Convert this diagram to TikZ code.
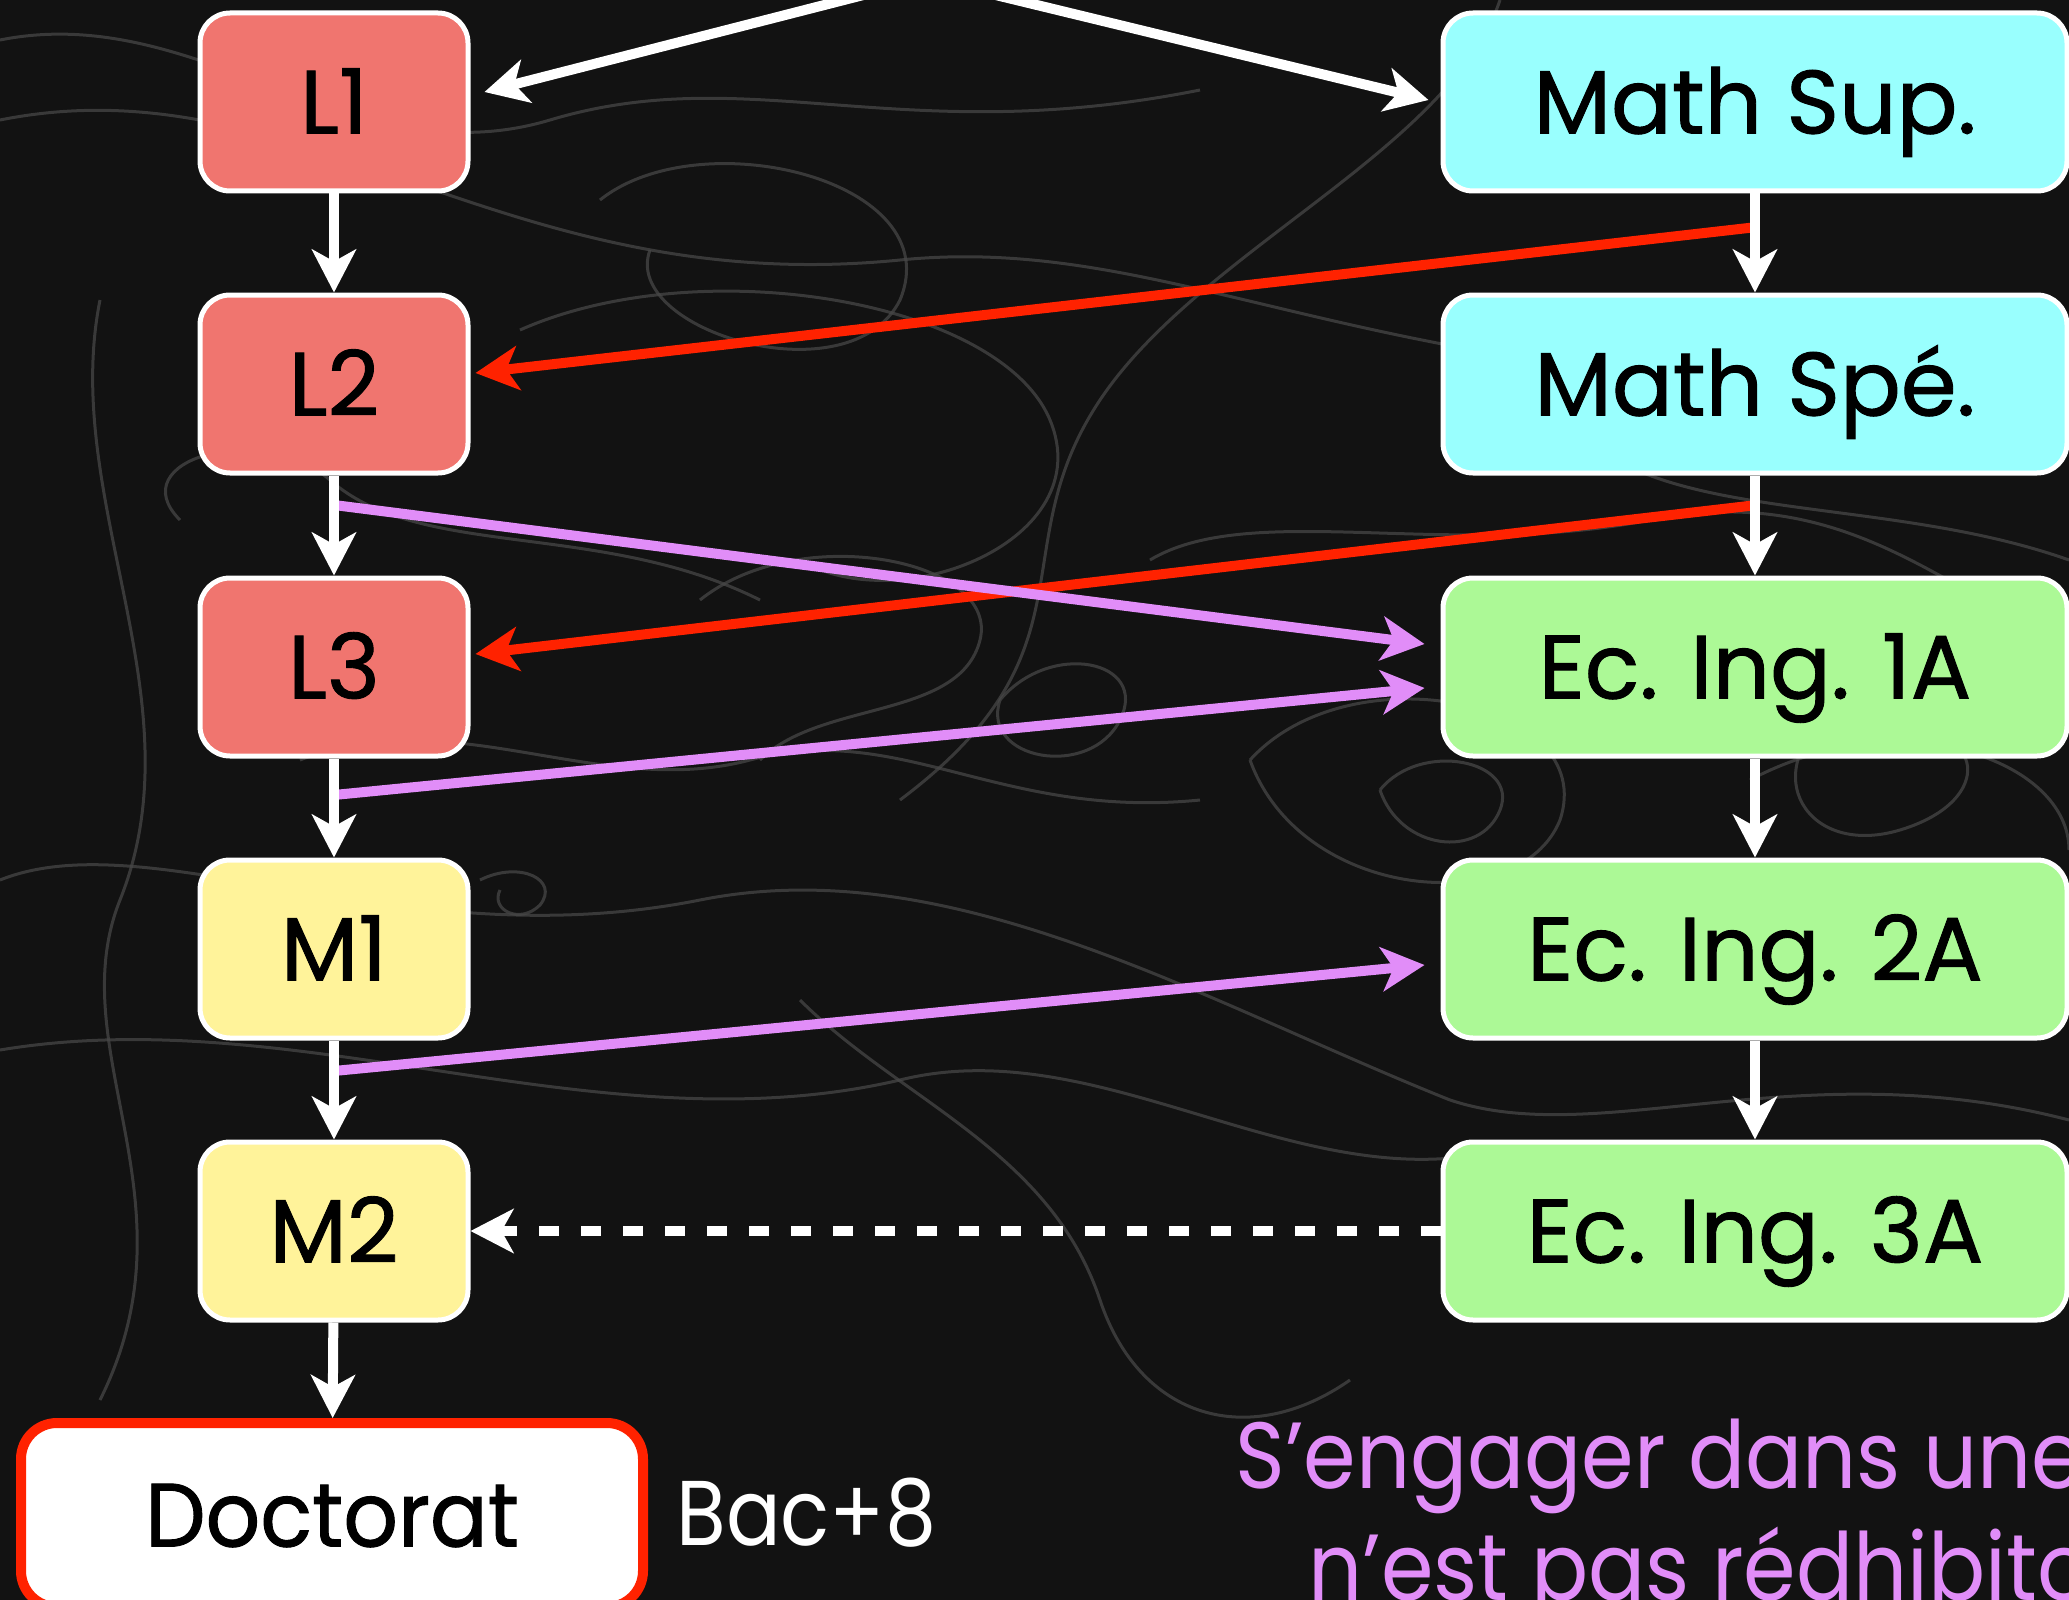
\documentclass[tikz,border=0pt]{standalone}
\usepackage{fontspec}
\setmainfont{Poppins}
\newfontfamily\boxfont[FakeBold=1]{Poppins}
\newfontfamily\docfont[FakeStretch=0.95,FakeBold=1]{Poppins}
\newfontfamily\narrowfont[FakeStretch=0.88]{Poppins}
\newfontfamily\viofont[FakeStretch=0.9]{Poppins}
\usetikzlibrary{arrows.meta}
\definecolor{bgc}{HTML}{121212}
\definecolor{chalk}{HTML}{474747}
\definecolor{lred}{HTML}{F0756F}
\definecolor{lcyan}{HTML}{99FFFE}
\definecolor{lgreen}{HTML}{ACF996}
\definecolor{lyellow}{HTML}{FFF39A}
\definecolor{redc}{HTML}{FF2200}
\definecolor{violc}{HTML}{E18DF8}
\begin{document}
\begin{tikzpicture}[x=0.5pt,y=-0.5pt,
  box/.style={draw=white,line width=2.5pt,rounded corners=15pt,minimum width=134pt,minimum height=89pt,inner sep=0pt,font=\boxfont\fontsize{45}{54}\selectfont,text=black,text height=31.5pt,text depth=0pt},
  widebox/.style={box,minimum width=312pt},
  arrowhd/.tip={Stealth[length=21.5pt,width=22pt,inset=6pt]},
  warr/.style={draw=white,line width=5pt,-{arrowhd}},
  rarr/.style={draw=redc,line width=5pt,-{arrowhd}},
  varr/.style={draw=violc,line width=5pt,-{arrowhd}},
  darr/.style={draw=white,line width=5pt,dash pattern=on 10pt off 11pt,-{arrowhd}},
  chalkline/.style={draw=chalk,line width=1.5pt,opacity=0.75}
]
\useasboundingbox (0,0) rectangle (2069,1600);
\clip (0,0) rectangle (2069,1600);
\fill[bgc] (0,0) rectangle (2069,1600);
% chalk texture
\draw[chalkline] (0,120) .. controls (300,60) and (500,300) .. (900,260) .. controls (1200,230) and (1400,420) .. (2069,380);
\draw[chalkline] (600,200) .. controls (700,120) and (950,180) .. (900,300) .. controls (850,400) and (620,330) .. (650,250);
\draw[chalkline] (180,520) .. controls (120,460) and (260,420) .. (330,480) .. controls (420,560) and (600,520) .. (760,600);
\draw[chalkline] (1000,700) .. controls (1050,640) and (1150,660) .. (1120,720) .. controls (1090,780) and (980,760) .. (1000,700);
\draw[chalkline] (1250,760) .. controls (1350,650) and (1600,700) .. (1560,820) .. controls (1520,920) and (1300,900) .. (1250,760);
\draw[chalkline] (1380,790) .. controls (1420,740) and (1520,760) .. (1500,810) .. controls (1480,860) and (1400,850) .. (1380,790);
\draw[chalkline] (1750,780) .. controls (1900,700) and (2069,760) .. (2069,850);
\draw[chalkline] (0,880) .. controls (150,820) and (400,960) .. (700,900) .. controls (950,850) and (1200,1000) .. (1450,1100);
\draw[chalkline] (480,880) .. controls (520,860) and (560,880) .. (540,905) .. controls (520,925) and (490,910) .. (500,890);
\draw[chalkline] (1450,1100) .. controls (1600,1150) and (1800,1050) .. (2069,1120);
\draw[chalkline] (1500,0) .. controls (1450,150) and (1200,250) .. (1100,400) .. controls (1000,550) and (1100,650) .. (900,800);
\draw[chalkline] (700,600) .. controls (800,520) and (1000,560) .. (980,640) .. controls (960,720) and (820,700) .. (760,760);
\draw[chalkline] (100,300) .. controls (60,500) and (200,700) .. (120,900) .. controls (60,1050) and (200,1200) .. (100,1400);
\draw[chalkline] (800,1000) .. controls (900,1100) and (1050,1150) .. (1100,1300) .. controls (1140,1420) and (1250,1450) .. (1350,1380);
\draw[chalkline] (1600,450) .. controls (1700,520) and (1900,500) .. (2069,560);
\draw[chalkline] (0,40) .. controls (200,0) and (350,180) .. (550,120) .. controls (750,60) and (900,150) .. (1200,90);
\draw[chalkline] (520,330) .. controls (700,250) and (1000,300) .. (1050,420) .. controls (1100,540) and (900,620) .. (800,560);
\draw[chalkline] (1150,560) .. controls (1250,500) and (1450,560) .. (1650,520) .. controls (1850,480) and (1950,600) .. (2069,640);
\draw[chalkline] (1850,700) .. controls (1750,760) and (1800,860) .. (1900,830) .. controls (2000,800) and (1980,720) .. (1900,740);
\draw[chalkline] (0,1050) .. controls (300,1000) and (600,1150) .. (900,1080) .. controls (1100,1030) and (1300,1200) .. (1500,1150);
\draw[chalkline] (300,760) .. controls (450,700) and (600,800) .. (750,760) .. controls (900,720) and (1000,820) .. (1200,800);
% nodes
\node[box,fill=lred] (L1) at (334,102) {L1};
\node[box,fill=lred] (L2) at (334,384) {L2};
\node[box,fill=lred] (L3) at (334,667) {L3};
\node[box,fill=lyellow] (M1) at (334,949) {M1};
\node[box,fill=lyellow] (M2) at (334,1231) {M2};
\node[widebox,fill=lcyan] (MS) at (1755,102) {Math Sup.};
\node[widebox,fill=lcyan] (MP) at (1755,384) {Math Spé.};
\node[widebox,fill=lgreen] (E1) at (1755,667) {Ec. Ing. 1A};
\node[widebox,fill=lgreen] (E2) at (1755,949) {Ec. Ing. 2A};
\node[widebox,fill=lgreen] (E3) at (1755,1231) {Ec. Ing. 3A};
\node[draw=redc,fill=white,line width=5pt,rounded corners=18pt,minimum width=311pt,minimum height=92pt,inner sep=0pt,font=\docfont\fontsize{45}{54}\selectfont,text=black,text height=31.5pt,text depth=0pt] (D) at (332,1515) {Doctorat};
\node[anchor=base west,inner sep=0pt,text=white,font=\narrowfont\fontsize{46}{54}\selectfont] (bac) at (676,1545) {Bac+8};
\node[anchor=base west,inner sep=0pt,text=violc,font=\viofont\fontsize{47}{56}\selectfont] (t1) at (1235,1488) {S’engager dans une};
\node[anchor=base west,inner sep=0pt,text=violc,font=\viofont\fontsize{47}{56}\selectfont] (t2) at (1308,1600) {n’est pas rédhibito};
% coordinates
\coordinate (top1) at (883,-10);
\coordinate (top2) at (975,-10);
\coordinate (s1) at (1757,227);
\coordinate (s2) at (1757,505);
\coordinate (v1) at (334,505);
\coordinate (v2) at (334,795);
\coordinate (v3) at (334,1071);
% coloured connectors
\draw[rarr] (s1) -- ([xshift=2.5pt,yshift=5.5pt]L2.east);
\draw[rarr] (s2) -- ([xshift=2.5pt,yshift=6.5pt]L3.east);
\draw[varr] (v1) -- ([xshift=-8pt,yshift=11.5pt]E1.west);
\draw[varr] (v2) -- ([xshift=-8pt,yshift=-10.5pt]E1.west);
\draw[varr] (v3) -- ([xshift=-8pt,yshift=-8pt]E2.west);
% white connectors
\draw[warr] (top1) -- ([xshift=7pt,yshift=5pt]L1.east);
\draw[warr] (top2) -- ([xshift=-6pt,yshift=1pt]MS.west);
\draw[warr] (L1) -- (L2);
\draw[warr] (L2) -- (L3);
\draw[warr] (L3) -- (M1);
\draw[warr] (M1) -- (M2);
\draw[warr] (M2) -- (D);
\draw[warr] (MS) -- (MP);
\draw[warr] (MP) -- (E1);
\draw[warr] (E1) -- (E2);
\draw[warr] (E2) -- (E3);
\draw[darr] (E3.west) -- (M2.east);
\end{tikzpicture}
\end{document}
